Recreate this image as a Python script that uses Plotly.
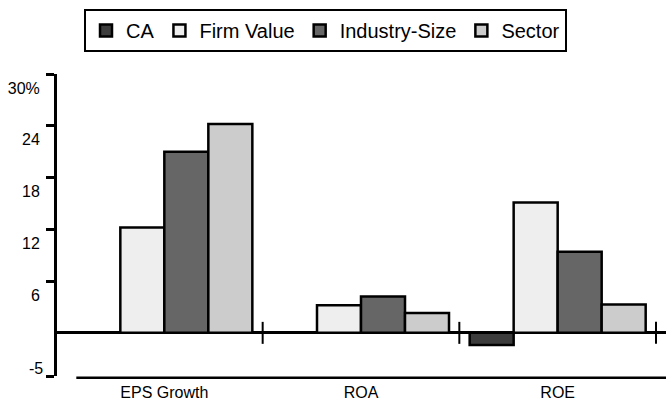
import plotly.graph_objects as go

# Performance metrics by peer-group benchmark (percent)
categories = ["EPS Growth", "ROA", "ROE"]
series_names = ["CA", "Firm Value", "Industry-Size", "Sector"]
ca_values = [None, None, -1.4]
firm_value_values = [12.2, 3.2, 15.1]
industry_size_values = [21.0, 4.2, 9.4]
sector_values = [24.2, 2.3, 3.3]
series_colors = ["#3c3c3c", "#eeeeee", "#666666", "#cccccc"]

y_tick_vals = [-5, 6, 12, 18, 24, 30]
y_tick_text = ["-5", "6", "12", "18", "24", "30%"]

FONT = "Liberation Sans, Arial, Helvetica, sans-serif"
BAR_GAP = 0.105

fig = go.Figure()
for name, vals, color in zip(
    series_names,
    [ca_values, firm_value_values, industry_size_values, sector_values],
    series_colors,
):
    fig.add_trace(
        go.Bar(
            name=name,
            x=categories,
            y=vals,
            marker=dict(color=color, line=dict(color="black", width=2.5)),
        )
    )

n = len(categories)
x_lo = -0.5 - 9 / 196.7
x_hi = n - 0.5 + 10 / 196.7

# category divider ticks crossing the zero line
for i in range(n):
    fig.add_shape(
        type="line", xref="x", yref="y", x0=i + 0.5, x1=i + 0.5,
        ysizemode="pixel", yanchor=0, y0=-11, y1=11,
        line=dict(color="black", width=2),
    )

# baseline rule above the category labels
fig.add_shape(
    type="line", xref="x", yref="paper",
    x0=-0.5 + BAR_GAP / 2, x1=x_hi, y0=-0.006, y1=-0.006,
    line=dict(color="black", width=2.5),
)

# the lowest tick label sits above its tick, the others below
main_text = [t if v != min(y_tick_vals) else "" for v, t in zip(y_tick_vals, y_tick_text)]
low_idx = y_tick_vals.index(min(y_tick_vals))
fig.add_annotation(
    xref="paper", yref="y", x=0, y=y_tick_vals[low_idx],
    text=y_tick_text[low_idx], showarrow=False,
    xanchor="right", yanchor="middle", xshift=-12, yshift=8,
    font=dict(family=FONT, size=16, color="black"),
)

fig.update_layout(
    width=670,
    height=402,
    margin=dict(l=57, r=4, t=74, b=26),
    paper_bgcolor="white",
    plot_bgcolor="white",
    font=dict(family=FONT, color="black"),
    barmode="group",
    bargap=BAR_GAP,
    bargroupgap=0,
    showlegend=True,
    legend=dict(
        orientation="h",
        xref="container", yref="container",
        x=84 / 670, y=1 - 9 / 402,
        xanchor="left", yanchor="top",
        bordercolor="black", borderwidth=2,
        bgcolor="white",
        font=dict(family=FONT, size=20, color="black"),
        traceorder="normal",
    ),
    xaxis=dict(
        type="category",
        range=[x_lo, x_hi],
        automargin=False,
        showgrid=False,
        showline=False,
        zeroline=False,
        ticks="",
        tickfont=dict(family=FONT, size=16, color="black"),
        ticklabelstandoff=5,
    ),
    yaxis=dict(
        range=[-5, 30],
        automargin=False,
        tickvals=y_tick_vals,
        ticktext=main_text,
        showgrid=False,
        showline=True,
        linecolor="black",
        linewidth=3,
        ticks="outside",
        ticklen=8,
        tickwidth=3,
        tickcolor="black",
        zeroline=True,
        zerolinecolor="black",
        zerolinewidth=3,
        tickfont=dict(family=FONT, size=16, color="black"),
        ticklabelshift=14,
        ticklabelstandoff=3,
    ),
)

fig.write_html("out.html")
